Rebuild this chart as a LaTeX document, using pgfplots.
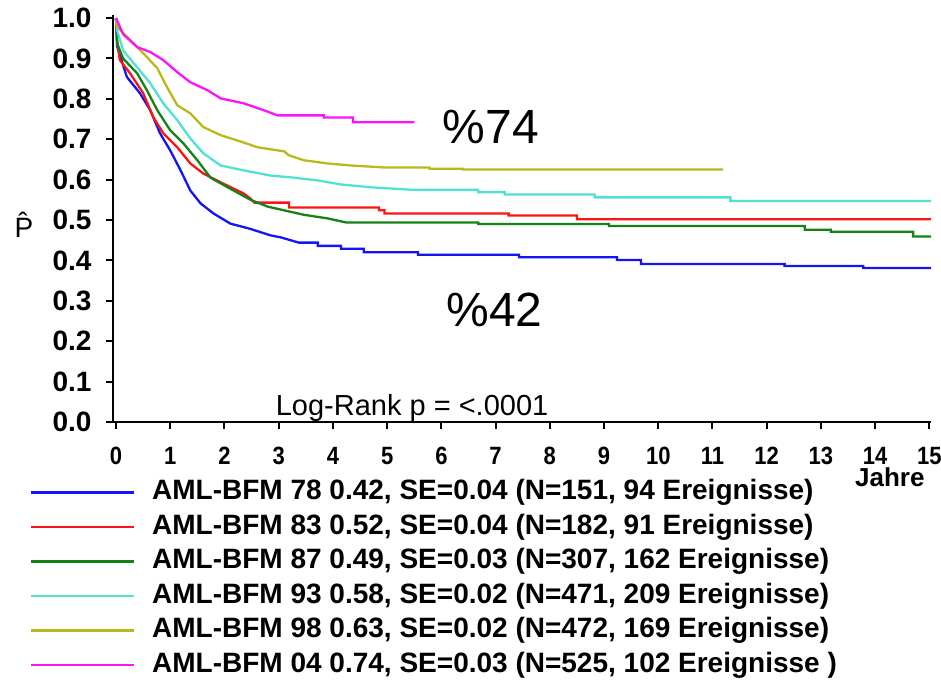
\documentclass[border=0pt]{standalone}
\usepackage{pgfplots}
\pgfplotsset{compat=1.18}
\usepackage{fontspec}
\setmainfont{Liberation Sans}
\newfontfamily\narrowsans{Liberation Sans}[FakeStretch=0.88]

\definecolor{kmblue}{RGB}{20,20,245}
\definecolor{kmred}{RGB}{250,20,20}
\definecolor{kmgreen}{RGB}{20,130,20}
\definecolor{kmcyan}{RGB}{80,225,210}
\definecolor{kmolive}{RGB}{185,185,25}
\definecolor{kmmagenta}{RGB}{250,20,250}

\begin{document}
\begin{tikzpicture}
\path[use as bounding box] (0,0) rectangle (941pt,681pt);
\begin{axis}[
  at={(113pt,259pt)}, anchor=south west,
  scale only axis, width=818pt, height=407pt,
  xmin=-0.056, xmax=15.03, ymin=0, ymax=1.0075,
  axis x line=bottom, axis y line=left,
  axis line style={-, line width=2.5pt, black},
  tick align=outside, major tick length=7pt,
  tick style={black, line width=2pt},
  xtick={0,1,2,3,4,5,6,7,8,9,10,11,12,13,14,15},
  ytick={0,0.1,0.2,0.3,0.4,0.5,0.6,0.7,0.8,0.9,1.0},
  /pgf/number format/assume math mode=true,
  yticklabel style={font=\bfseries\fontsize{28}{28}\selectfont, xshift=-11pt,
    /pgf/number format/fixed, /pgf/number format/fixed zerofill,
    /pgf/number format/precision=1},
  xticklabel style={font=\narrowsans\bfseries\fontsize{25}{25}\selectfont, yshift=-15pt},
  clip=false,
  every axis plot/.append style={line width=2.3pt},
  legend cell align=left,
  legend style={draw=none, fill=none, anchor=north west,
    at={(axis description cs:-0.1016,-0.1400)},
    font=\bfseries\fontsize{28}{28}\selectfont, inner sep=0pt, outer sep=0pt,
    column sep=17pt, row sep=7.5pt,
    nodes={inner sep=0pt, text height=21pt, text depth=6pt}},
  legend image code/.code={\draw[#1] (0pt,0pt) -- (103pt,0pt);},
]

\addplot[kmblue] coordinates {
(0,1)(0.02,0.93)(0.2,0.854)(0.44,0.814)(0.63,0.772)(0.81,0.715)(1.0,0.672)
(1.19,0.623)(1.37,0.573)(1.56,0.541)(1.8,0.516)(2.11,0.491)(2.48,0.478)
(2.57,0.474)(2.85,0.462)(3.04,0.457)(3.37,0.444)(3.72,0.444)(3.72,0.436)
(4.15,0.436)(4.15,0.429)(4.57,0.429)(4.57,0.42)(5.57,0.42)(5.57,0.414)
(7.43,0.414)(7.43,0.408)(9.24,0.408)(9.24,0.401)(9.68,0.401)(9.68,0.391)
(12.33,0.391)(12.33,0.386)(13.78,0.386)(13.78,0.381)(15.03,0.381)};
\addlegendentry{AML-BFM 78 0.42, SE=0.04 (N=151, 94 Ereignisse)}

\addplot[kmred] coordinates {
(0,1)(0.02,0.945)(0.07,0.896)(0.26,0.863)(0.5,0.814)(0.69,0.754)(0.87,0.715)
(1.13,0.68)(1.37,0.64)(1.61,0.615)(1.98,0.59)(2.35,0.566)(2.48,0.553)
(2.55,0.543)(3.19,0.543)(3.19,0.531)(4.85,0.531)(4.85,0.524)(4.95,0.524)
(4.95,0.516)(7.24,0.516)(7.24,0.511)(8.5,0.511)(8.5,0.502)(15.03,0.502)};
\addlegendentry{AML-BFM 83 0.52, SE=0.04 (N=182, 91 Ereignisse)}

\addplot[kmgreen] coordinates {
(0,1)(0.02,0.937)(0.13,0.9)(0.39,0.863)(0.57,0.821)(0.76,0.772)(1.0,0.722)
(1.24,0.69)(1.5,0.648)(1.74,0.605)(2.06,0.581)(2.48,0.55)(2.8,0.533)
(3.1,0.524)(3.46,0.513)(3.9,0.504)(4.24,0.494)(6.68,0.494)(6.68,0.49)
(9.09,0.49)(9.09,0.485)(12.7,0.485)(12.7,0.476)(13.18,0.476)(13.18,0.471)
(14.7,0.471)(14.7,0.459)(15.03,0.459)};
\addlegendentry{AML-BFM 87 0.49, SE=0.03 (N=307, 162 Ereignisse)}

\addplot[kmcyan] coordinates {
(0,1)(0.02,0.97)(0.13,0.92)(0.39,0.878)(0.63,0.839)(0.87,0.789)(1.13,0.747)
(1.37,0.702)(1.61,0.665)(1.93,0.635)(2.35,0.623)(2.85,0.61)(3.2,0.606)
(3.72,0.598)(4.15,0.588)(4.7,0.581)(5.44,0.575)(6.68,0.575)(6.68,0.569)
(7.17,0.569)(7.17,0.563)(8.83,0.563)(8.83,0.556)(11.33,0.556)(11.33,0.547)
(15.03,0.547)};
\addlegendentry{AML-BFM 93 0.58, SE=0.02 (N=471, 209 Ereignisse)}

\addplot[kmolive] coordinates {
(0,1)(0.02,0.978)(0.48,0.916)(0.76,0.876)(0.94,0.829)(1.13,0.784)(1.37,0.764)
(1.61,0.73)(1.93,0.71)(2.35,0.692)(2.61,0.68)(3.1,0.67)(3.19,0.66)
(3.46,0.648)(3.9,0.64)(4.33,0.635)(4.95,0.63)(5.78,0.63)(5.78,0.627)
(6.4,0.627)(6.4,0.625)(11.19,0.625)};
\addlegendentry{AML-BFM 98 0.63, SE=0.02 (N=472, 169 Ereignisse)}

\addplot[kmmagenta] coordinates {
(0,1)(0.13,0.96)(0.39,0.928)(0.63,0.916)(0.87,0.896)(1.13,0.866)(1.37,0.841)
(1.69,0.821)(1.93,0.801)(2.35,0.789)(2.72,0.772)(2.98,0.759)(3.83,0.759)
(3.83,0.754)(4.37,0.754)(4.37,0.742)(5.5,0.742)};
\addlegendentry{AML-BFM 04 0.74, SE=0.03 (N=525, 102 Ereignisse )}

\node[font=\fontsize{48}{48}\selectfont] at (axis cs:6.91,0.73) {\%74};
\node[font=\fontsize{48}{48}\selectfont] at (axis cs:6.98,0.277) {\%42};
\node[font=\fontsize{29}{29}\selectfont, anchor=base] at (axis cs:5.46,0.017) {Log-Rank p = <.0001};
\node[font=\bfseries\fontsize{26}{26}\selectfont] at (axis cs:14.27,-0.137) {Jahre};
\node[font=\fontsize{28}{28}\selectfont] at (axis cs:-1.70,0.488) {\^{P}};
\end{axis}
\end{tikzpicture}
\end{document}
